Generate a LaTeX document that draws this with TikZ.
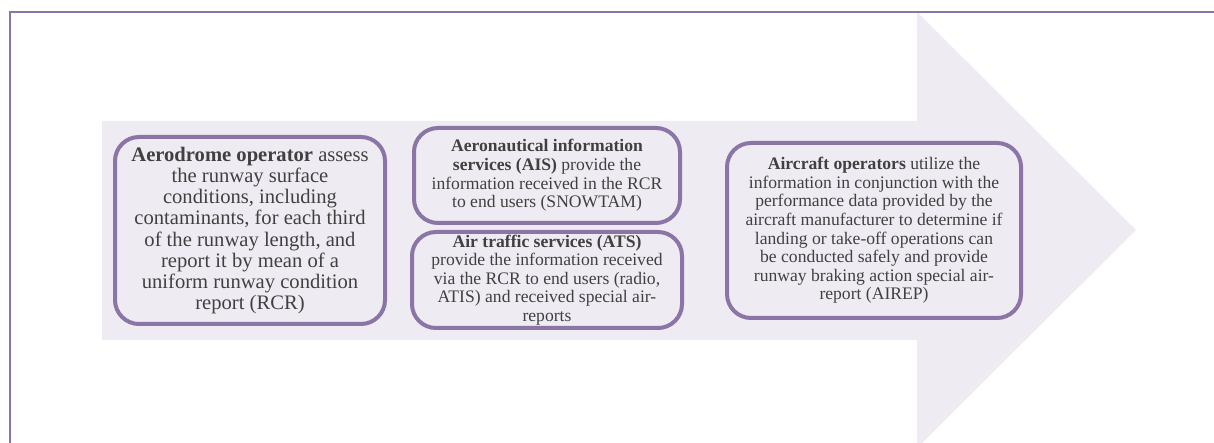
\documentclass[tikz,border=0pt]{standalone}
\usepackage{fontspec}
\setmainfont{Liberation Serif}
\usetikzlibrary{positioning}
\definecolor{boxpurple}{RGB}{139,116,166}
\definecolor{arrowfill}{RGB}{238,236,242}
\definecolor{textgray}{RGB}{64,64,64}
\tikzset{
	x=1pt, y=1pt, % coordinates are given in pt
	node distance=2.5pt, % gap between the two middle boxes
	infobox/.style={draw=boxpurple, line width=2pt, rounded corners=12pt, fill=arrowfill, text=textgray, align=center, inner sep=0pt}, % the rounded boxes
	bigtext/.style={font=\fontsize{10.3}{10.6}\selectfont},
	smalltext/.style={font=\fontsize{8.8}{9.3}\selectfont},
}
\begin{document}
\begin{tikzpicture}
	\useasboundingbox (0,0) rectangle (607,221.5);
	%Arrow
	\fill[arrowfill] (51,51.5) -- (458.5,51.5) -- (458.5,-2.5) -- (568,106.5)
		-- (458.5,215.5) -- (458.5,161) -- (51,161) -- cycle;
	\draw[boxpurple, line width=0.75pt] (5,0) -- (5,215.5) -- (607,215.5);

	%Nodes
	\node[infobox, bigtext, minimum width=135pt, minimum height=93.5pt] (aerodrome) at (125,106.25)
		{\textbf{Aerodrome operator} assess\\ the runway surface\\ conditions, including\\ contaminants, for each third\\ of the runway length, and\\ report it by mean of a\\ uniform runway condition\\ report (RCR)};
	\node[infobox, smalltext, minimum width=133pt, minimum height=47.5pt] (ais) at (273.5,133.75)
		{\textbf{Aeronautical information}\\ \textbf{services (AIS)} provide the\\ information received in the RCR\\ to end users (SNOWTAM)};
	\node[infobox, smalltext, minimum width=135pt, minimum height=48pt] (ats) [below=of ais]
		{\textbf{Air traffic services (ATS)}\\ provide the information received\\ via the RCR to end users (radio,\\ ATIS) and received special air-\\ reports};
	\node[infobox, smalltext, minimum width=147pt, minimum height=87.5pt] (operators) at (437,106.25)
		{\textbf{Aircraft operators} utilize the\\ information in conjunction with the\\ performance data provided by the\\ aircraft manufacturer to determine if\\ landing or take-off operations can\\ be conducted safely and provide\\ runway braking action special air-\\ report (AIREP)};
\end{tikzpicture}
\end{document}
